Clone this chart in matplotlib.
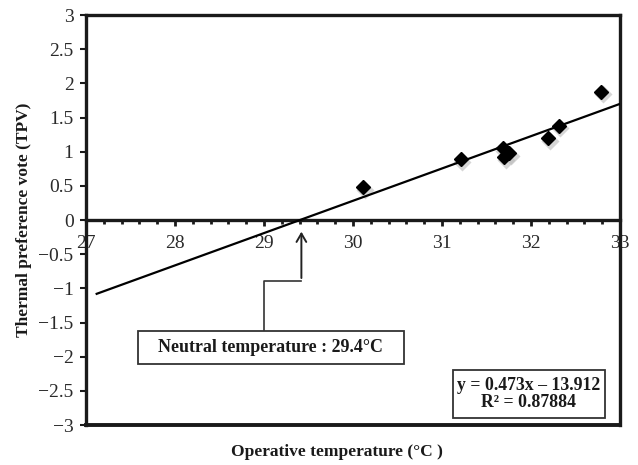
import numpy as np
import matplotlib
matplotlib.use('Agg')
from matplotlib import pyplot as plt
from matplotlib.patches import Rectangle

#  data
temp = [30.11, 31.21, 31.68, 31.70, 31.75, 32.19, 32.31, 32.79]
tpv = [0.48, 0.89, 1.05, 0.92, 0.98, 1.20, 1.38, 1.88]
fit_x = [27.12, 33.0]
fit_y = [-1.08, 1.70]
neutral_t = 29.4
eq_text = 'y = 0.473x \u2013 13.912\nR\u00b2 = 0.87884'
neutral_text = 'Neutral temperature : 29.4\u00b0C'

plt.rcParams['font.family'] = ['Liberation Serif', 'DejaVu Serif']

fig = plt.figure(figsize=(6.38, 4.65), dpi=100)
ax = fig.add_axes([0.1348, 0.086, 0.8370, 0.8817])

#  markers with soft shadow
ax.plot(np.array(temp) + 0.02, np.array(tpv) - 0.04, 'D', ms=9, color='#bbbbbb',
        alpha=0.6, mec='none', zorder=2)
ax.plot(temp, tpv, 'D', ms=7.5, color='black', mec='black', zorder=3)
ax.plot(fit_x, fit_y, color='black', lw=1.6, zorder=3)

ax.set_xlim(27, 33)
ax.set_ylim(-3, 3)
ax.set_xticks(np.arange(27, 33.1, 1))
ax.set_xticks(np.arange(27, 33.01, 0.2), minor=True)
ax.set_yticks(np.arange(-3, 3.01, 0.5))
ax.set_yticklabels(['\u22123', '\u22122.5', '\u22122', '\u22121.5', '\u22121', '\u22120.5',
                    '0', '0.5', '1', '1.5', '2', '2.5', '3'])

for s in ['left', 'right', 'top', 'bottom']:
    ax.spines[s].set_linewidth(2.4)
    ax.spines[s].set_color('#1a1a1a')
ax.spines['bottom'].set_position(('data', 0))
ax.axhline(-3, color='#1a1a1a', lw=2.8, clip_on=False, zorder=5)

ax.tick_params(axis='x', which='major', direction='out', length=4, width=2,
               labelsize=14, pad=7, colors='#1a1a1a')
ax.tick_params(axis='x', which='minor', direction='out', length=3, width=2,
               colors='#1a1a1a')
ax.tick_params(axis='y', direction='out', length=4, width=1.5, labelsize=14,
               pad=5, colors='#1a1a1a')
for lab in ax.get_xticklabels() + ax.get_yticklabels():
    lab.set_color('#2a2a2a')

#  neutral temperature call-out
ax.annotate('', xy=(neutral_t + 0.02, -0.13), xytext=(neutral_t + 0.02, -0.89),
            arrowprops=dict(arrowstyle='->,head_length=0.6,head_width=0.35',
                            color='#222222', lw=1.4), zorder=4)
ax.plot([neutral_t + 0.02, 29.0, 29.0], [-0.89, -0.89, -1.63], color='#333333',
        lw=1.2, zorder=4)
ax.add_patch(Rectangle((27.58, -2.10), 2.99, 0.47, fill=True, facecolor='white',
                       edgecolor='#333333', lw=1.3, zorder=4))
ax.text(29.075, -1.87, neutral_text, ha='center', va='center', fontsize=12.9,
        fontweight='bold', color='#1a1a1a', zorder=5)

#  regression equation box
ax.add_patch(Rectangle((31.12, -2.894), 1.71, 0.70, fill=True, facecolor='white',
                       edgecolor='#333333', lw=1.3, zorder=4))
ax.text(31.975, -2.54, eq_text, ha='center', va='center', fontsize=12.8,
        fontweight='bold', color='#1a1a1a', linespacing=1.0, zorder=5)

ax.set_ylabel('Thermal preference vote (TPV)', fontsize=12.5, fontweight='bold',
              color='#1a1a1a')
ax.yaxis.set_label_coords(-0.101, 0.5)
fig.text(0.528, 0.028, 'Operative temperature (\u00b0C )', ha='center', va='center',
         fontsize=12.5, fontweight='bold', color='#1a1a1a')

fig.savefig('out.png', dpi=100)
